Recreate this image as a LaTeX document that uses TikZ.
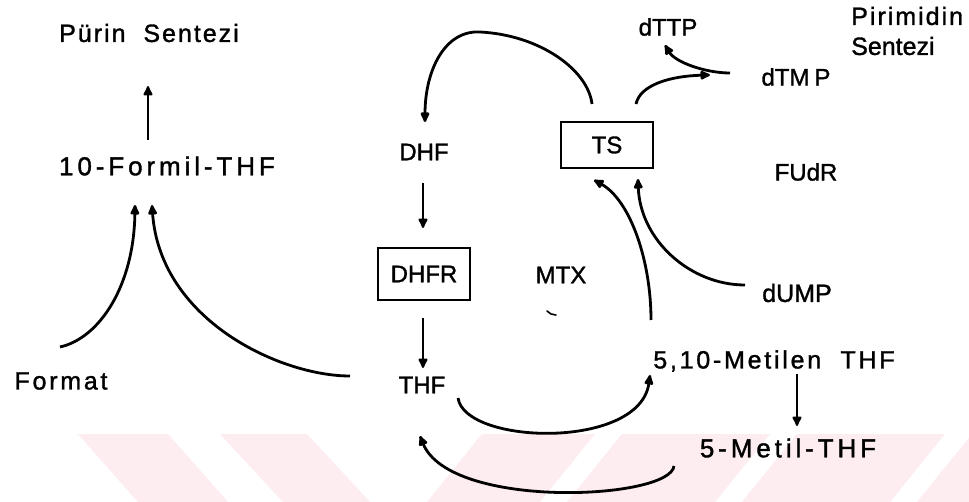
\documentclass[tikz,border=0pt]{standalone}
\usepackage{fontspec}
\setmainfont{Liberation Sans}[FakeBold=1.3]
\newfontfamily\plainsans{Liberation Sans}[FakeBold=1.3]
\newfontfamily\wideA{Liberation Sans}[LetterSpace=15, FakeBold=1.3]
\newfontfamily\wideB{Liberation Sans}[LetterSpace=11, FakeBold=1.3]
\newfontfamily\wideC{Liberation Sans}[LetterSpace=8, FakeBold=1.3]
\usetikzlibrary{arrows.meta}
\definecolor{wmpink}{RGB}{253,236,240}
\tikzset{
  lbl/.style={inner sep=0pt, font=\fontsize{24}{27}\selectfont\plainsans},
  lblA/.style={inner sep=0pt, font=\fontsize{26}{29}\selectfont\wideA},
  lblB/.style={inner sep=0pt, font=\fontsize{25}{28}\selectfont\wideB},
  lblC/.style={inner sep=0pt, font=\fontsize{25}{28}\selectfont\wideC},
  enzyme/.style={draw, line width=2pt, inner sep=0pt, font=\fontsize{24}{27}\selectfont\plainsans},
  flow/.style={line width=2.8pt, -{Latex[length=13pt,width=11pt,round]}},
  drop/.style={line width=2.1pt, -{Latex[length=12pt,width=11pt,round]}}
}
\begin{document}
\begin{tikzpicture}[x=1pt, y=-1pt]
\useasboundingbox (0,0) rectangle (969,502);
\fill[white] (0,0) rectangle (969,502);

% faint striped band along the bottom edge
\begin{scope}
  \clip (0,0) rectangle (969,502);
  \fill[wmpink] (78,434) -- (168,434) -- (228,502) -- (138,502) -- cycle;
  \fill[wmpink] (220,434) -- (307,434) -- (370,502) -- (283,502) -- cycle;
  \fill[wmpink] (427,502) -- (482,434) -- (595,434) -- (540,502) -- cycle;
  \fill[wmpink] (567,502) -- (622,434) -- (770,434) -- (715,502) -- cycle;
  \fill[wmpink] (742,502) -- (797,434) -- (945,434) -- (890,502) -- cycle;
  \fill[wmpink] (917,502) -- (972,434) -- (1100,434) -- (1045,502) -- cycle;
\end{scope}

% labels
\node[lblC] (purin) at (149,33) {Pürin\ \ Sentezi};
\node[lblA] (formil) at (167,166) {10-Formil-THF};
\node[lblB] (format) at (61,381) {Format};
\node[lbl] (dhf) at (424,152) {DHF};
\node[enzyme, minimum width=92pt, minimum height=52pt] (dhfr) at (424,274) {DHFR};
\node[enzyme, minimum width=92pt, minimum height=46pt] (ts) at (607,145) {TS};
\node[lbl] (mtx) at (561,275) {MTX};
\node[lbl] (thf) at (422,385) {THF};
\node[lbl] (dttp) at (668,27) {dTTP};
\node[lbl] (dtmp) at (796,77) {dTM\kern5pt P};
\node[lblC, anchor=west] (pirim) at (851,16) {Pirimidin};
\node[lbl, font=\fontsize{25}{28}\selectfont\plainsans, anchor=west] (pirsen) at (851,46) {Sentezi};
\node[lbl] (fudr) at (806,172) {FUdR};
\node[lbl, font=\fontsize{25}{28}\selectfont\plainsans] (dump) at (797,293) {dUMP};
\node[lblB] (metilen) at (774,361) {5,10-Metilen\ \ THF};
\node[lblA] (metil) at (788,448) {5-Metil-THF};

% connector end points
\coordinate (formilTop) at (148,140);
\coordinate (purinBot) at (148,86);
\coordinate (formilInL) at (135,205);
\coordinate (formilInR) at (152,205);
\coordinate (formatOut) at (60,347);
\coordinate (thfOutL) at (350,376);
\coordinate (tsOutL) at (592,104);
\coordinate (tsArcTop) at (480,32);
\coordinate (dhfIn) at (425,122);
\coordinate (tsOutR) at (636,104);
\coordinate (dtmpIn) at (710,75);
\coordinate (dtmpOut) at (730,73);
\coordinate (dttpIn) at (665,45);
\coordinate (dhfOut) at (423,183);
\coordinate (dhfrIn) at (423,228);
\coordinate (dhfrOut) at (423,318);
\coordinate (thfIn) at (423,368);
\coordinate (thfOutR) at (458,398);
\coordinate (metilenIn) at (650,375);
\coordinate (metilenOutD) at (797,374);
\coordinate (metilIn) at (797,426);
\coordinate (metilOut) at (674,466);
\coordinate (thfInB) at (420,436);
\coordinate (metilenOutU) at (651,320);
\coordinate (tsInL) at (594,180);
\coordinate (dumpOut) at (745,285);
\coordinate (tsInR) at (638,179);
\coordinate (speck) at (547,311);

% purine branch
\draw[drop] (formilTop) -- (purinBot);
\draw[flow] (formatOut) .. controls (100,338) and (134,285) .. (formilInL);
\draw[flow] (thfOutL) .. controls (280,376) and (160,320) .. (formilInR);

% thymidylate synthase reactions
\draw[flow] (tsOutL) .. controls (588,70) and (540,35) .. (tsArcTop)
  .. controls (445,30) and (425,70) .. (dhfIn);
\draw[flow] (tsOutR) .. controls (640,85) and (670,76) .. (dtmpIn);
\draw[flow] (dtmpOut) .. controls (705,73) and (675,62) .. (dttpIn);
\draw[flow] (metilenOutU) .. controls (651,260) and (630,200) .. (tsInL);
\draw[flow] (dumpOut) .. controls (690,285) and (640,240) .. (tsInR);

% folate reduction
\draw[drop] (dhfOut) -- (dhfrIn);
\draw[drop] (dhfrOut) -- (thfIn);

% folate cycle
\draw[flow] (thfOutR) .. controls (465,445) and (640,450) .. (metilenIn);
\draw[drop] (metilenOutD) -- (metilIn);
\draw[flow] (metilOut) .. controls (670,500) and (450,510) .. (thfInB);

% small mark below MTX
\draw[line width=1.6pt, line cap=round] (speck) -- ++(4,3) -- ++(5,1);
\end{tikzpicture}
\end{document}
